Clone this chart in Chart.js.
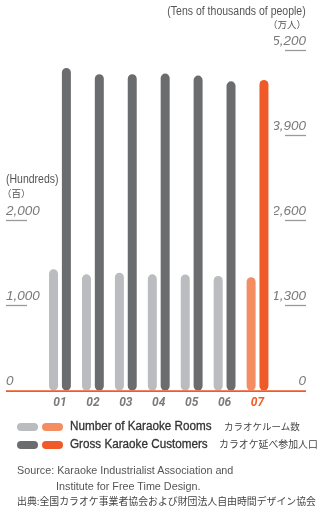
<!DOCTYPE html>
<html>
<head>
<meta charset="utf-8">
<script src="https://cdn.jsdelivr.net/npm/chart.js@4/dist/chart.umd.min.js"></script>
<style>
  html, body { margin: 0; padding: 0; background: #fff; }
  #wrap { position: relative; width: 320px; height: 515px; overflow: hidden; }
  #c { position: absolute; left: 0; top: 0; }
  .t { position: absolute; white-space: nowrap; font-family: "Liberation Sans", Arial, sans-serif; color: #555; line-height: 1; }
  .l { transform-origin: left center; }
  .r { transform-origin: right center; }
  .jp { font-family: "Noto Sans CJK JP", sans-serif; }
  .key { -webkit-text-stroke: 0.3px #333; }
  .pill { position: absolute; width: 21px; height: 8px; border-radius: 4px; }
</style>
</head>
<body>
<div id="wrap">
  <canvas id="c" width="320" height="515"></canvas>

  <div class="t r" style="right:14px; top:5px; font-size:12.5px; transform:scaleX(0.84);">(Tens of thousands of people)</div>
  <div class="t jp r" style="right:14px; top:20px; font-size:9.5px;">（万人）</div>
  <div class="t l" style="left:6px; top:173px; font-size:12.5px; transform:scaleX(0.84);">(Hundreds)</div>
  <div class="t jp l" style="left:2px; top:189px; font-size:9.5px;">（百）</div>

  <div class="pill" style="left:17px; top:423px; background:#bbbcbf;"></div>
  <div class="pill" style="left:42px; top:423px; background:#f58d62;"></div>
  <div class="t l key" style="left:70px; top:420px; font-size:12.5px; color:#333; transform:scaleX(0.935);">Number of Karaoke Rooms</div>
  <div class="t jp" style="left:224px; top:422px; font-size:9.5px; color:#444;">カラオケルーム数</div>

  <div class="pill" style="left:17px; top:441px; background:#6b6c6e;"></div>
  <div class="pill" style="left:42px; top:441px; background:#f05a28;"></div>
  <div class="t l key" style="left:70px; top:438px; font-size:12.5px; color:#333; transform:scaleX(0.935);">Gross Karaoke Customers</div>
  <div class="t jp" style="left:219px; top:440px; font-size:9.9px; color:#444;">カラオケ延べ参加人口</div>

  <div class="t l" style="left:17px; top:464px; font-size:11.6px; transform:scaleX(0.93);">Source: Karaoke Industrialist Association and</div>
  <div class="t l" style="left:56px; top:480px; font-size:11.6px; transform:scaleX(0.93);">Institute for Free Time Design.</div>
  <div class="t jp" style="left:17px; top:497px; font-size:9.9px; color:#444;">出典:全国カラオケ事業者協会および財団法人自由時間デザイン協会</div>
</div>

<script>
// Years (2001–2007) shown as two-digit labels
const years = ['01', '02', '03', '04', '05', '06', '07'];
// Number of karaoke rooms, in hundreds (left axis)
const karaokeRooms = [1426, 1365, 1385, 1365, 1363, 1346, 1331];
// Gross karaoke customers, in tens of thousands of people (right axis)
const karaokeCustomers = [4927, 4829, 4829, 4840, 4809, 4722, 4743];
// Tick labels shown on each axis
const roomTicks = [0, 1000, 2000];
const customerTicks = [0, 1300, 2600, 3900, 5200];

const GREY_LIGHT = '#bbbcbf', GREY_DARK = '#6b6c6e';
const ORANGE_LIGHT = '#f58d62', ORANGE = '#f05a28';
const LABEL_GREY = '#7a7a7a';
const last = years.length - 1;

const tickFont = { family: '"Liberation Sans", Arial, sans-serif', size: 13.5, style: 'italic', weight: 'normal' };

// Baseline across both axes and short rules under each tick value
const axisDecor = {
  id: 'axisDecor',
  afterDatasetsDraw(chart) {
    const { ctx } = chart;
    const yl = chart.scales.y, yr = chart.scales.y1;
    ctx.save();
    ctx.strokeStyle = '#9a9a9a';
    ctx.lineWidth = 1.3;
    yl.ticks.forEach(t => {
      if (t.value === 0) return;
      const py = Math.round(yl.getPixelForValue(t.value)) + 0.5;
      ctx.beginPath(); ctx.moveTo(yl.left, py); ctx.lineTo(yl.left + 21, py); ctx.stroke();
    });
    yr.ticks.forEach(t => {
      if (t.value === 0) return;
      const py = Math.round(yr.getPixelForValue(t.value)) + 0.5;
      ctx.beginPath(); ctx.moveTo(yr.right - 21, py); ctx.lineTo(yr.right, py); ctx.stroke();
    });
    const by = yl.getPixelForValue(0) + 0.5;
    ctx.strokeStyle = ORANGE;
    ctx.lineWidth = 1.6;
    ctx.beginPath(); ctx.moveTo(yl.left, by); ctx.lineTo(yr.right, by); ctx.stroke();
    ctx.restore();
  }
};

new Chart(document.getElementById('c'), {
  type: 'bar',
  data: {
    labels: years,
    datasets: [
      {
        label: 'Number of Karaoke Rooms',
        data: karaokeRooms,
        yAxisID: 'y',
        backgroundColor: years.map((_, i) => i === last ? ORANGE_LIGHT : GREY_LIGHT),
        borderRadius: 5,
        borderSkipped: false,
        categoryPercentage: 0.78,
        barPercentage: 0.70
      },
      {
        label: 'Gross Karaoke Customers',
        data: karaokeCustomers,
        yAxisID: 'y1',
        backgroundColor: years.map((_, i) => i === last ? ORANGE : GREY_DARK),
        borderRadius: 5,
        borderSkipped: false,
        categoryPercentage: 0.78,
        barPercentage: 0.70
      }
    ]
  },
  options: {
    responsive: false,
    animation: false,
    events: [],
    layout: { padding: { top: 50, left: 6, right: 14, bottom: 100 } },
    plugins: { legend: { display: false }, tooltip: { enabled: false } },
    scales: {
      x: {
        grid: { display: false, drawTicks: false },
        border: { display: false },
        ticks: {
          padding: 5,
          font: { family: 'Roboto, "Liberation Sans", sans-serif', size: 12, style: 'italic', weight: 'bold' },
          color: c => c.index === last ? ORANGE : LABEL_GREY
        }
      },
      y: {
        position: 'left',
        min: 0, max: 4000,
        afterBuildTicks: s => { s.ticks = roomTicks.map(v => ({ value: v })); },
        afterFit: s => { s.width = 37.5; },
        grid: { display: false, drawTicks: false },
        border: { display: false },
        ticks: {
          crossAlign: 'far',
          labelOffset: -9,
          font: tickFont,
          color: LABEL_GREY,
          callback: v => v.toLocaleString('en-US')
        }
      },
      y1: {
        position: 'right',
        min: 0, max: 5200,
        afterBuildTicks: s => { s.ticks = customerTicks.map(v => ({ value: v })); },
        afterFit: s => { s.width = 32; },
        grid: { display: false, drawTicks: false },
        border: { display: false },
        ticks: {
          crossAlign: 'far',
          labelOffset: -9,
          font: tickFont,
          color: LABEL_GREY,
          callback: v => v.toLocaleString('en-US')
        }
      }
    }
  },
  plugins: [axisDecor]
});
</script>
</body>
</html>
